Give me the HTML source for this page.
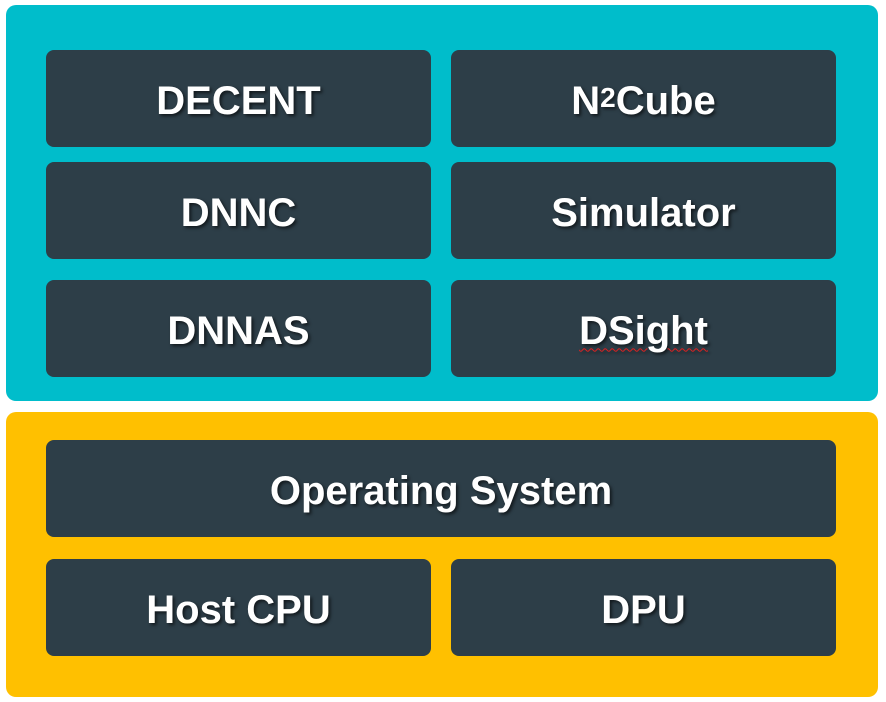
<!DOCTYPE html>
<html><head><style>
body{margin:0;width:886px;height:702px;background:#fff;position:relative;overflow:hidden;font-family:"Liberation Sans",Arial,sans-serif}
.p{position:absolute;left:6px;width:872px;border-radius:10px}
.b{position:absolute;background:#2D3E48;border-radius:8px;color:#fff;font-weight:bold;font-size:40px;display:flex;align-items:center;justify-content:center;text-shadow:2px 2px 3px rgba(0,0,0,0.6);height:92px;padding-top:5px}
.l{left:46px;width:385px}.r{left:451px;width:385px}
sup{font-size:28px;line-height:0;position:relative;top:-3px;vertical-align:baseline}
</style></head><body>
<div class="p" style="top:5px;height:396px;background:#00BDCB"></div>
<div class="p" style="top:412px;height:285px;background:#FFC000"></div>
<div class="b l" style="top:50px">DECENT</div>
<div class="b r" style="top:50px">N<sup>2</sup>Cube</div>
<div class="b l" style="top:162px">DNNC</div>
<div class="b r" style="top:162px">Simulator</div>
<div class="b l" style="top:280px">DNNAS</div>
<div class="b r" style="top:280px"><span style="text-decoration:underline wavy #e02020 1px;text-underline-offset:4px">DSight</span></div>
<div class="b" style="top:440px;left:46px;width:790px">Operating System</div>
<div class="b l" style="top:559px">Host CPU</div>
<div class="b r" style="top:559px">DPU</div>
</body></html>
